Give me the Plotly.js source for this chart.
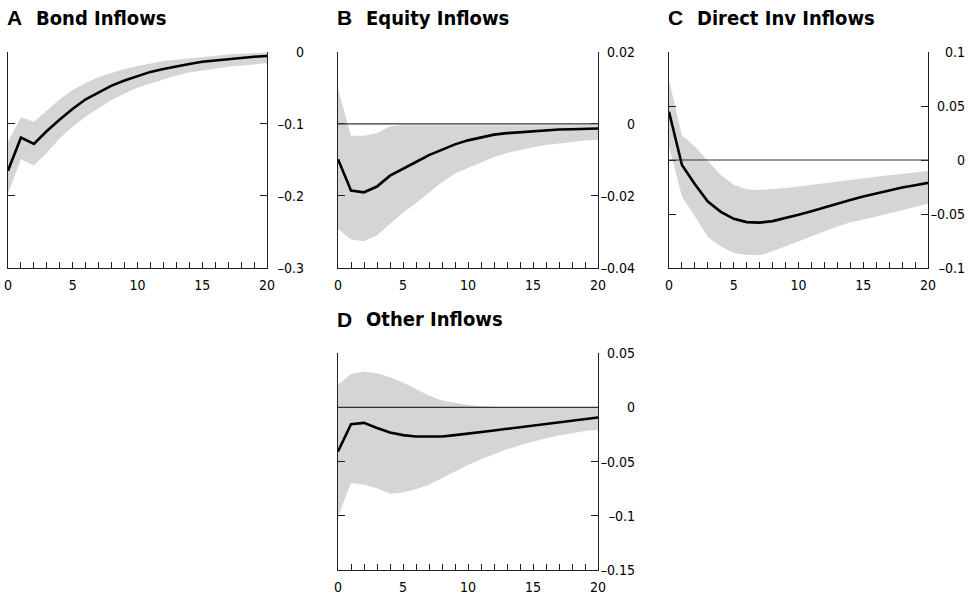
<!DOCTYPE html>
<html>
<head>
<meta charset="utf-8">
<script src="https://cdn.plot.ly/plotly-3.0.1.min.js"></script>
<style>
html,body{margin:0;padding:0;background:#fff;}
#chart{width:975px;height:594px;}
svg text{font-stretch:condensed;}
</style>
</head>
<body>
<div id="chart"></div>
<script>
// Horizon (quarters)
const steps = [0,1,2,3,4,5,6,7,8,9,10,11,12,13,14,15,16,17,18,19,20];

// Panel titles
const panelLetters = ["A", "B", "C", "D"];
const panelNames = ["Bond Inflows", "Equity Inflows", "Direct Inv Inflows", "Other Inflows"];

// A: Bond inflows
const bondMid   = [-0.165,-0.119,-0.128,-0.110,-0.094,-0.079,-0.066,-0.056,-0.047,-0.040,-0.034,-0.028,-0.024,-0.020,-0.017,-0.014,-0.012,-0.010,-0.008,-0.007,-0.006];
const bondUpper = [-0.125,-0.091,-0.097,-0.082,-0.066,-0.053,-0.043,-0.035,-0.029,-0.024,-0.020,-0.016,-0.013,-0.011,-0.009,-0.007,-0.006,-0.004,-0.003,-0.002,-0.001];
const bondLower = [-0.197,-0.149,-0.158,-0.140,-0.120,-0.104,-0.090,-0.078,-0.067,-0.058,-0.050,-0.044,-0.038,-0.033,-0.029,-0.026,-0.023,-0.021,-0.019,-0.017,-0.016];

// B: Equity inflows
const equityMid   = [-0.0098,-0.0185,-0.0190,-0.0174,-0.0144,-0.0126,-0.0106,-0.0087,-0.0071,-0.0057,-0.0046,-0.0037,-0.0030,-0.0026,-0.0023,-0.0020,-0.0018,-0.0016,-0.0015,-0.0014,-0.0013];
const equityUpper = [0.0097,-0.0033,-0.0033,-0.0026,-0.0007,-0.0004,-0.0004,-0.0004,-0.0004,-0.0004,-0.0004,-0.0004,-0.0004,-0.0004,-0.0004,-0.0004,-0.0004,-0.0004,-0.0004,-0.0004,-0.0004];
const equityLower = [-0.0292,-0.0321,-0.0326,-0.0310,-0.0277,-0.0247,-0.0220,-0.0190,-0.0162,-0.0138,-0.0123,-0.0107,-0.0092,-0.0081,-0.0072,-0.0065,-0.0059,-0.0054,-0.0050,-0.0046,-0.0044];

// C: Direct investment inflows
const directMid   = [0.0446,-0.0046,-0.0225,-0.0385,-0.0480,-0.0545,-0.0575,-0.0580,-0.0566,-0.0540,-0.0508,-0.0474,-0.0437,-0.0403,-0.0370,-0.0338,-0.0308,-0.0280,-0.0255,-0.0234,-0.0212];
const directUpper = [0.0738,0.0230,0.0123,-0.0012,-0.0138,-0.0230,-0.0270,-0.0277,-0.0270,-0.0260,-0.0246,-0.0230,-0.0215,-0.0200,-0.0185,-0.0170,-0.0154,-0.0142,-0.0130,-0.0117,-0.0102];
const directLower = [0.0123,-0.0338,-0.0523,-0.0714,-0.0800,-0.0862,-0.0877,-0.0883,-0.0846,-0.0800,-0.0754,-0.0708,-0.0662,-0.0615,-0.0577,-0.0554,-0.0523,-0.0492,-0.0462,-0.0437,-0.0406];

// D: Other inflows
const otherMid   = [-0.0406,-0.0154,-0.0142,-0.0190,-0.0230,-0.0255,-0.0268,-0.0270,-0.0268,-0.0255,-0.0243,-0.0228,-0.0212,-0.0197,-0.0182,-0.0166,-0.0150,-0.0135,-0.0120,-0.0105,-0.0092];
const otherUpper = [0.0210,0.0310,0.0332,0.0317,0.0280,0.0230,0.0170,0.0108,0.0065,0.0040,0.0022,0.0012,0.0003,0.0000,-0.0004,-0.0005,-0.0005,-0.0005,-0.0005,-0.0005,-0.0005];
const otherLower = [-0.1006,-0.0698,-0.0714,-0.0745,-0.0797,-0.0785,-0.0754,-0.0714,-0.0652,-0.0591,-0.0530,-0.0477,-0.0428,-0.0385,-0.0348,-0.0314,-0.0283,-0.0258,-0.0237,-0.0218,-0.0206];

// Axis ranges and y tick values / labels
const yRanges = [[-0.3, 0], [-0.04, 0.02], [-0.1, 0.1], [-0.15, 0.05]];
const bondTicks   = [-0.3, -0.2, -0.1, 0];
const bondLabels  = ["–0.3", "–0.2", "–0.1", "0"];
const equityTicks  = [-0.04, -0.02, 0, 0.02];
const equityLabels = ["–0.04", "–0.02", "0", "0.02"];
const directTicks  = [-0.1, -0.05, 0, 0.05, 0.1];
const directLabels = ["–0.1", "–0.05", "0", "0.05", "0.1"];
const otherTicks  = [-0.15, -0.1, -0.05, 0, 0.05];
const otherLabels = ["–0.15", "–0.1", "–0.05", "0", "0.05"];
const xRange = [0, 20];
const xDtick = 5;

const W = 975, H = 594;
// panel pixel boxes [left, right, top, bottom]
const boxes = [[8, 267, 51.7, 268], [338, 598, 51.7, 268], [669, 928, 52, 268], [338, 598, 353.3, 570]];

const mids = [bondMid, equityMid, directMid, otherMid];
const uppers = [bondUpper, equityUpper, directUpper, otherUpper];
const lowers = [bondLower, equityLower, directLower, otherLower];
const yTickVals = [bondTicks, equityTicks, directTicks, otherTicks];
const yTickText = [bondLabels, equityLabels, directLabels, otherLabels];

const INK = '#231f20';
const BAND = '#d4d5d7';
const condFamily = 'DejaVu Sans, sans-serif';
const letterFamily = 'Liberation Sans, Arial, sans-serif';

const traces = [];
const layout = {
  width: W, height: H,
  margin: {l: 0, r: 0, t: 0, b: 0},
  paper_bgcolor: '#fff', plot_bgcolor: 'rgba(0,0,0,0)',
  showlegend: false,
  annotations: [], shapes: []
};

for (let p = 0; p < 4; p++) {
  const n = p + 1;
  const xa = n === 1 ? 'x' : 'x' + n;
  const ya = n === 1 ? 'y' : 'y' + n;
  const la = 'y' + (n + 4);
  const b = boxes[p];
  traces.push({x: steps, y: lowers[p], xaxis: xa, yaxis: ya, type: 'scatter', mode: 'lines',
    line: {width: 0, color: BAND}, hoverinfo: 'skip'});
  traces.push({x: steps, y: uppers[p], xaxis: xa, yaxis: ya, type: 'scatter', mode: 'lines',
    fill: 'tonexty', fillcolor: BAND, line: {width: 0, color: BAND}, hoverinfo: 'skip'});
  traces.push({x: steps, y: mids[p], xaxis: xa, yaxis: ya, type: 'scatter', mode: 'lines',
    line: {width: 2.6, color: '#000'}});
  // empty trace so the right-aligned label axis exists
  traces.push({x: [], y: [], xaxis: xa, yaxis: la, type: 'scatter', mode: 'lines', hoverinfo: 'skip'});

  layout['xaxis' + (n === 1 ? '' : n)] = {
    domain: [b[0] / W, b[1] / W], anchor: ya, range: xRange, dtick: xDtick, tick0: 0,
    showline: true, linecolor: INK, linewidth: 1, mirror: false,
    ticks: 'inside', ticklen: 6, tickcolor: INK, tickwidth: 1,
    minor: {dtick: 1, tick0: 0, ticks: 'inside', ticklen: 6, tickcolor: INK, tickwidth: 1, showgrid: false},
    showgrid: false, zeroline: false, fixedrange: true,
    tickfont: {family: condFamily, size: 14, color: '#000'},
    ticklabelstandoff: 4
  };
  layout['yaxis' + (n === 1 ? '' : n)] = {
    domain: [1 - b[3] / H, 1 - b[2] / H], anchor: xa, side: 'right', range: yRanges[p],
    tickmode: 'array', tickvals: yTickVals[p],
    showline: true, linecolor: INK, linewidth: 1, mirror: 'ticks',
    ticks: 'inside', ticklen: 7, tickcolor: INK, tickwidth: 1,
    showticklabels: false,
    showgrid: false, zeroline: false, fixedrange: true
  };
  // label-only axis: right-aligned tick labels to the right of the frame
  layout['yaxis' + (n + 4)] = {
    overlaying: ya, matches: ya, side: 'left', anchor: 'free', position: (b[1] + 37) / W,
    range: yRanges[p], tickmode: 'array', tickvals: yTickVals[p], ticktext: yTickText[p],
    showline: false, ticks: '', showgrid: false, zeroline: false, fixedrange: true,
    ticklabelstandoff: 0,
    tickfont: {family: condFamily, size: 14, color: '#000'}
  };
  if (yRanges[p][1] > 0) {
    layout.shapes.push({type: 'line', xref: xa + ' domain', yref: ya, x0: 0, x1: 1, y0: 0, y1: 0,
      line: {color: '#333', width: 1.2}, layer: 'above'});
  }
  const titleY = 1 - (b[2] - 34) / H;
  layout.annotations.push({xref: 'paper', yref: 'paper', x: b[0] / W - 0.003, y: titleY, xanchor: 'left', yanchor: 'middle',
    text: '<b>' + panelLetters[p] + '</b>', showarrow: false,
    font: {family: letterFamily, size: 21, color: '#000'}});
  layout.annotations.push({xref: 'paper', yref: 'paper', x: (b[0] + 26) / W, y: titleY, xanchor: 'left', yanchor: 'middle',
    text: '<b>' + panelNames[p] + '</b>', showarrow: false,
    font: {family: condFamily, size: 20, color: '#000'}});
}

Plotly.newPlot('chart', traces, layout, {displayModeBar: false, staticPlot: true});
</script>
</body>
</html>
